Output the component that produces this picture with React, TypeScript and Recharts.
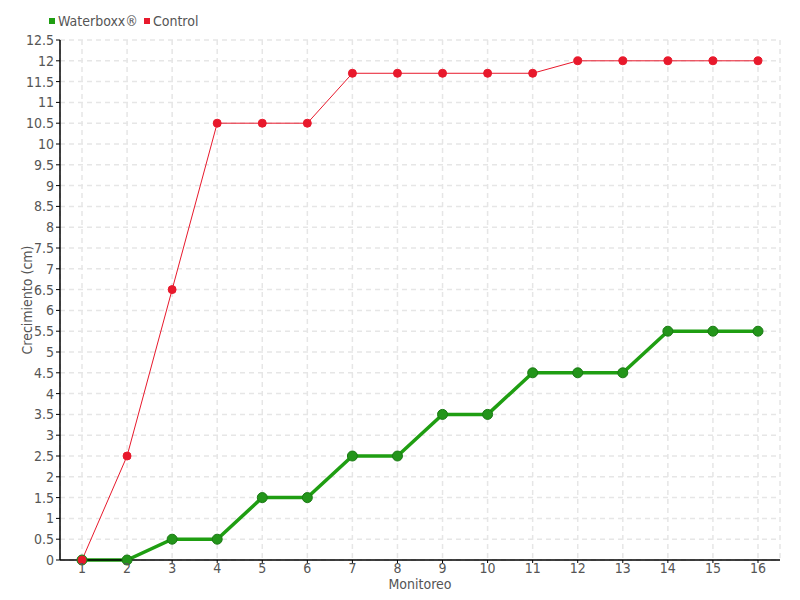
import React from 'react';
import { LineChart, Line, XAxis, YAxis, CartesianGrid } from 'recharts';

const monitoreo = ['1','2','3','4','5','6','7','8','9','10','11','12','13','14','15','16'];
const waterboxx = [0, 0, 0.5, 0.5, 1.5, 1.5, 2.5, 2.5, 3.5, 3.5, 4.5, 4.5, 4.5, 5.5, 5.5, 5.5];
const control = [0, 2.5, 6.5, 10.5, 10.5, 10.5, 11.7, 11.7, 11.7, 11.7, 11.7, 12, 12, 12, 12, 12];
const yTicks = [0,0.5,1,1.5,2,2.5,3,3.5,4,4.5,5,5.5,6,6.5,7,7.5,8,8.5,9,9.5,10,10.5,11,11.5,12,12.5];

const data = monitoreo.map((m, i) => ({ m, waterboxx: waterboxx[i], control: control[i] }));

const FONT = '"DejaVu Sans Condensed", "DejaVu Sans", sans-serif';
const TEXT = '#555';
const GREEN = '#1f9e12';
const RED = '#e8192c';

export default function App() {
  return (
    <div style={{ position: 'absolute', left: 0, top: 0, width: 800, height: 600, background: '#fff' }}>
      <div style={{ position: 'absolute', left: 49, top: 13, display: 'flex', alignItems: 'center', fontFamily: FONT, fontStretch: 'condensed', fontSize: 14, color: TEXT, zIndex: 1 }}>
        <span style={{ width: 6, height: 6, background: GREEN, display: 'inline-block', marginRight: 3 }} />
        <span style={{ marginRight: 6 }}>Waterboxx®</span>
        <span style={{ width: 6, height: 6, background: RED, display: 'inline-block', marginRight: 3 }} />
        <span>Control</span>
      </div>
      <LineChart width={800} height={600} data={data} margin={{ top: 40, right: 20, bottom: 10, left: 0 }}>
        <CartesianGrid stroke="#e6e6e6" strokeDasharray="5 4" strokeWidth={1.5} />
        <XAxis
          dataKey="m"
          height={30}
          padding={{ left: 22, right: 22 }}
          axisLine={{ stroke: '#000', strokeWidth: 1.5 }}
          tickLine={{ stroke: '#000' }}
          tickSize={3}
          tickMargin={0}
          tick={{ fill: TEXT, fontFamily: FONT, fontSize: 14, fontStretch: 'condensed' }}
          interval={0}
          label={{ value: 'Monitoreo', position: 'insideBottom', offset: 1, fill: TEXT, fontFamily: FONT, fontSize: 14, fontStretch: 'condensed' }}
        />
        <YAxis
          width={60}
          domain={[0, 12.5]}
          ticks={yTicks}
          interval={0}
          axisLine={{ stroke: '#000', strokeWidth: 1.5 }}
          tickLine={{ stroke: '#000' }}
          tickSize={4}
          tick={{ fill: TEXT, fontFamily: FONT, fontSize: 14, fontStretch: 'condensed' }}
          label={{ value: 'Crecimiento (cm)', angle: -90, position: 'insideLeft', offset: 27, fill: TEXT, fontFamily: FONT, fontSize: 14, fontStretch: 'condensed', style: { textAnchor: 'middle' } }}
        />
        <Line
          dataKey="waterboxx"
          stroke={GREEN}
          strokeWidth={3.5}
          dot={{ r: 5, fill: '#23951a', stroke: '#1a7a14', strokeWidth: 1 }}
          activeDot={false}
          isAnimationActive={false}
        />
        <Line
          dataKey="control"
          stroke={RED}
          strokeWidth={1}
          dot={{ r: 4, fill: RED, stroke: RED, strokeWidth: 1 }}
          activeDot={false}
          isAnimationActive={false}
        />
      </LineChart>
    </div>
  );
}
